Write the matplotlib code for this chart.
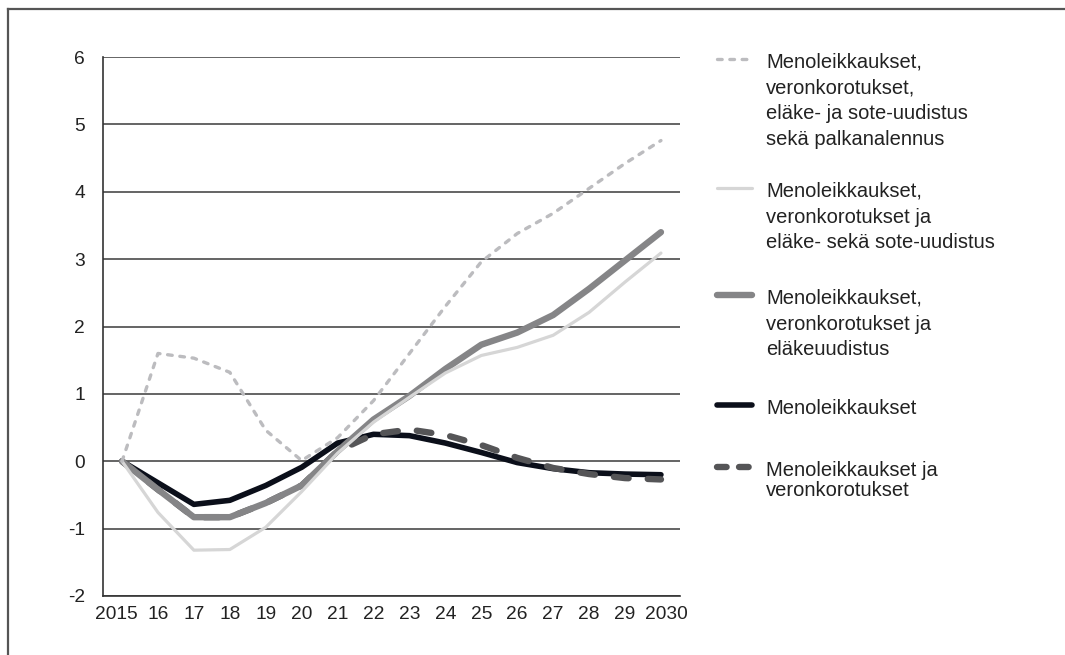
import matplotlib
matplotlib.use("Agg")
import matplotlib.pyplot as plt
from matplotlib.lines import Line2D
from matplotlib.transforms import ScaledTranslation

plt.rcParams['font.family'] = ['Liberation Sans', 'DejaVu Sans']

years = ['2015', '16', '17', '18', '19', '20', '21', '22', '23', '24',
         '25', '26', '27', '28', '29', '2030']

# Menoleikkaukset, veronkorotukset, eläke- ja sote-uudistus sekä palkanalennus
s_all = [0, 1.60, 1.53, 1.32, 0.46, 0.01, 0.35, 0.90, 1.60, 2.30,
         2.96, 3.38, 3.68, 4.05, 4.42, 4.76]
# Menoleikkaukset, veronkorotukset ja eläke- sekä sote-uudistus
s_sote = [0, -0.76, -1.32, -1.31, -0.98, -0.45, 0.12, 0.58, 0.95, 1.31,
          1.57, 1.69, 1.87, 2.21, 2.66, 3.09]
# Menoleikkaukset, veronkorotukset ja eläkeuudistus
s_elake = [0, -0.42, -0.83, -0.83, -0.62, -0.36, 0.15, 0.62, 0.97, 1.37,
           1.73, 1.91, 2.17, 2.56, 2.98, 3.40]
# Menoleikkaukset
s_meno = [0, -0.32, -0.64, -0.58, -0.36, -0.09, 0.27, 0.40, 0.38, 0.27,
          0.13, -0.02, -0.11, -0.17, -0.19, -0.20]
# Menoleikkaukset ja veronkorotukset
s_vero = [0, -0.42, -0.83, -0.83, -0.62, -0.36, 0.15, 0.40, 0.47, 0.39,
          0.24, 0.05, -0.10, -0.19, -0.25, -0.27]

labels = ['Menoleikkaukset,\nveronkorotukset,\neläke- ja sote-uudistus\nsekä palkanalennus',
          'Menoleikkaukset,\nveronkorotukset ja\neläke- sekä sote-uudistus',
          'Menoleikkaukset,\nveronkorotukset ja\neläkeuudistus',
          'Menoleikkaukset',
          'Menoleikkaukset ja\nveronkorotukset']

W, H = 1065, 655
fig = plt.figure(figsize=(W / 100, H / 100), dpi=100)
ax = fig.add_axes([103 / W, 1 - 596 / H, (680 - 103) / W, (596 - 57) / H])

x = list(range(len(years)))

styles = [
    dict(color='#bcbcbf', lw=2.4, ls=(0, (1.4, 2.3)), dash_capstyle='round', zorder=6),
    dict(color='#d6d6d6', lw=2.3, ls='-', solid_capstyle='round', zorder=5),
    dict(color='#858587', lw=4.6, ls='-', solid_capstyle='round', zorder=4),
    dict(color='#0b0f1a', lw=4.0, ls='-', solid_capstyle='round', zorder=2),
    dict(color='#555557', lw=4.6, ls=(0, (2.3, 3.0)), dash_capstyle='round', zorder=3),
]
series = [s_all, s_sote, s_elake, s_meno, s_vero]

for vals, st in zip(series, styles):
    ax.plot(x, vals, **st)

ax.set_xlim(-0.53, len(years) - 0.47)
ax.set_ylim(-2, 6)
ax.set_yticks(range(-2, 7))
ax.set_yticklabels([str(v) for v in range(-2, 7)])
ax.set_xticks(x)
ax.set_xticklabels(years)
ax.tick_params(axis='both', length=0, labelsize=13.8, colors='#222222')
ax.tick_params(axis='y', pad=13)
ax.tick_params(axis='x', pad=7)

# first and last year labels sit a bit outward, as in the original
xl = ax.get_xticklabels()
xl[0].set_transform(xl[0].get_transform() + ScaledTranslation(-0.06, 0, fig.dpi_scale_trans))
xl[-1].set_transform(xl[-1].get_transform() + ScaledTranslation(0.05, 0, fig.dpi_scale_trans))

ax.yaxis.grid(True, color='#3a3a3a', lw=1.1)
ax.set_axisbelow(True)
for side in ['right', 'top']:
    ax.spines[side].set_visible(False)
for side in ['left', 'bottom']:
    ax.spines[side].set_color('#333333')
    ax.spines[side].set_linewidth(1.2)

# legend drawn by hand at the right
hy = [59, 188, 295, 405, 467]
lsp = [1.44, 1.44, 1.44, 1.44, 1.1]
for i, (lab, st, y, sp) in enumerate(zip(labels, styles, hy, lsp)):
    st2 = {k: v for k, v in st.items() if k != 'zorder'}
    if i == 4:
        st2['ls'] = (0, (1.5, 1.95))
    fig.add_artist(Line2D([717 / W, 752 / W], [1 - y / H, 1 - y / H],
                          transform=fig.transFigure, **st2))
    fig.text(766 / W, 1 - (y - 6) / H, lab, fontsize=14.5, color='#222222',
             va='top', ha='left', linespacing=sp)

# outer frame (top and left)
fig.add_artist(Line2D([8 / W, 1], [1 - 9 / H, 1 - 9 / H], transform=fig.transFigure,
                      color='#555555', lw=1.6))
fig.add_artist(Line2D([8 / W, 8 / W], [0, 1 - 9 / H], transform=fig.transFigure,
                      color='#555555', lw=1.6))

fig.savefig('out.png', dpi=100)
